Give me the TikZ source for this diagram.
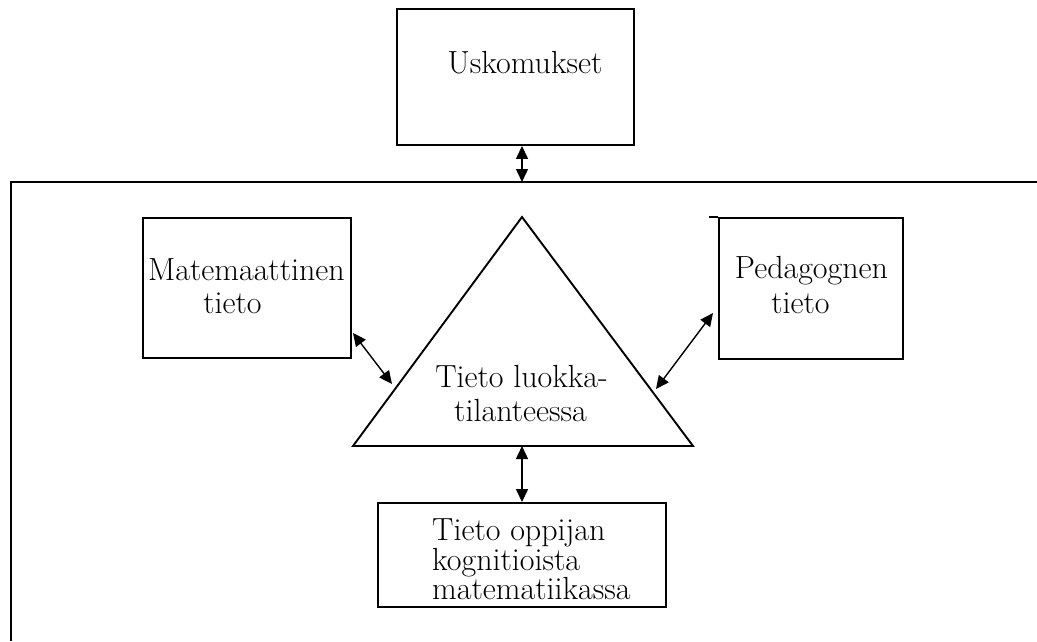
\documentclass[tikz,border=0pt]{standalone}
\usetikzlibrary{arrows.meta}
\begin{document}
\begin{tikzpicture}[x=1pt,y=-1pt,
  frame/.style={line width=1.9pt},
  box/.style={draw,line width=1.9pt,inner sep=0pt},
  lbl/.style={anchor=base,inner sep=0pt,font=\fontsize{32}{36}\selectfont},
  lbll/.style={lbl,anchor=base west},
  link/.style={line width=1.4pt,
    {Triangle[length=13pt,width=12pt]}-{Triangle[length=13pt,width=12pt]}}]
\useasboundingbox (0,0) rectangle (1037,641);

% outer frame (open at right and bottom)
\coordinate (ftop) at (522,182);
\draw[frame] (11,641) -- (11,182) -- (1037,182);

% boxes
\node[box,minimum width=237pt,minimum height=136pt] (usk) at (515.5,77) {};
\node[box,minimum width=208pt,minimum height=140pt] (mat) at (247,288) {};
\node[box,minimum width=184pt,minimum height=141pt] (ped) at (811,288.5) {};
\draw[frame] (ped.north west) -- ++(-9,0);
\node[box,minimum width=288pt,minimum height=104pt] (opp) at (522,555) {};

% central triangle
\coordinate (apex) at (522,217);
\coordinate (bl) at (353,446);
\coordinate (br) at (693,446);
\coordinate (tbase) at (522,446);
\draw[frame,line join=miter] (apex) -- (bl) -- (br) -- cycle;

% labels
\node[lbl] (tu) at (525,73) {Uskomukset};
\node[lbl] (tm1) at (246.5,280) {Matemaattinen};
\node[lbl] (tm2) at (232.5,313) {tieto};
\node[lbl] (tt1) at (521.5,387) {Tieto luokka-};
\node[lbl] (tt2) at (520.5,421) {tilanteessa};
\node[lbl] (tp1) at (811.5,278) {Pedagognen};
\node[lbl] (tp2) at (800.5,313) {tieto};
\node[lbll] (to1) at (432,540.5) {Tieto oppijan};
\node[lbll] (to2) at (432,570) {kognitioista};
\node[lbll] (to3) at (432,599.5) {matematiikassa};

% two-way links
\coordinate (mEnd) at (353,333);
\coordinate (tlEnd) at (392,384);
\coordinate (pEnd) at (713,313);
\coordinate (trEnd) at (656,389);
\draw[link] (usk.south -| ftop) -- (ftop);
\draw[link] (mEnd) -- (tlEnd);
\draw[link] (pEnd) -- (trEnd);
\draw[link] (tbase) -- (opp.north -| tbase);
\end{tikzpicture}
\end{document}
